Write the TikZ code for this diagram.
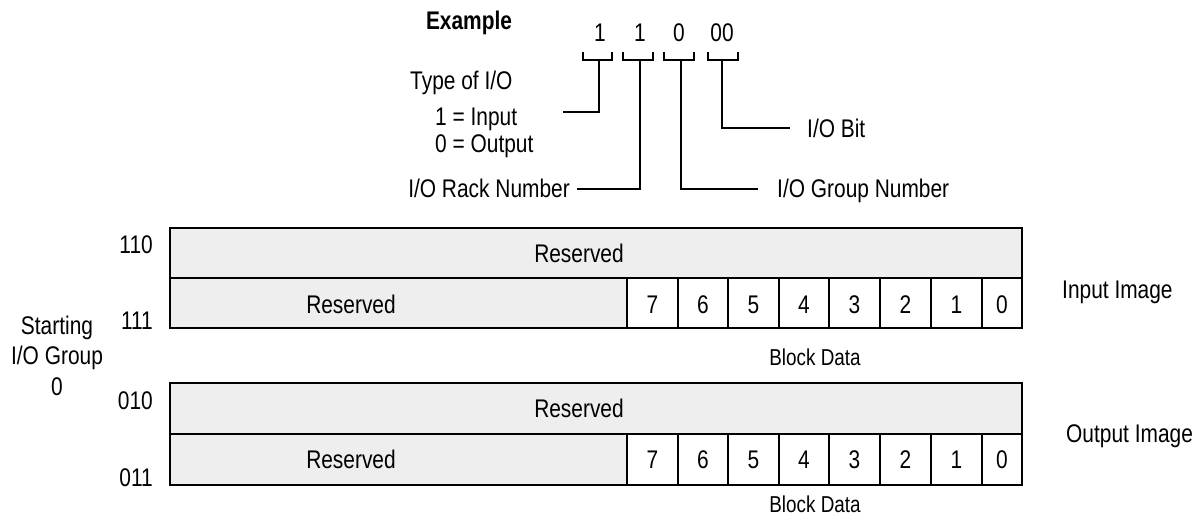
\documentclass[tikz,border=0pt]{standalone}
\usepackage{fontspec}
\setmainfont{Liberation Sans}[FakeStretch=0.82]
\definecolor{resgray}{HTML}{EEEEEE}
\begin{document}
\begin{tikzpicture}[x=1pt,y=-1pt,
  lbl/.style={font=\fontsize{25.5}{30}\selectfont, inner sep=0, anchor=base},
  boldlbl/.style={font=\fontsize{25.5}{30}\selectfont\bfseries, inner sep=0, anchor=base},
  small/.style={font=\fontsize{23}{27}\selectfont, inner sep=0, anchor=base},
  link/.style={line width=1.8pt},
  grid/.style={line width=1.8pt},
]
\useasboundingbox (0,0) rectangle (1204,516);

% ---- address example ----
\node[boldlbl] (example) at (469,30) {Example};
\node[lbl] (d1) at (600,42) {1};
\node[lbl] (d2) at (640,42) {1};
\node[lbl] (d3) at (679,42) {0};
\node[lbl] (d4) at (722,42) {00};

% brackets under the digits
\draw[link] (583,52) |- (612,60) -- (612,52);
\draw[link] (623,52) |- (653,60) -- (653,52);
\draw[link] (664,52) |- (694,60) -- (694,52);
\draw[link] (708,52) |- (738,60) -- (738,52);

% field descriptions
\node[lbl, anchor=base west] (type) at (410,90) {Type of I/O};
\node[lbl, anchor=base west] (tin) at (435,125) {1 = Input};
\node[lbl, anchor=base west] (tout) at (435,153) {0 = Output};
\node[lbl, anchor=base east] (rack) at (570,197) {I/O Rack Number};
\node[lbl, anchor=base west] (group) at (777,197) {I/O Group Number};
\node[lbl, anchor=base west] (bit) at (807,138) {I/O Bit};

% leader lines from the brackets
\coordinate (s1) at (599,60);
\coordinate (s2) at (640,60);
\coordinate (s3) at (681,60);
\coordinate (s4) at (722,60);
\coordinate (e1) at (563,112);
\coordinate (e2) at (577,189);
\coordinate (e3) at (758,189);
\coordinate (e4) at (790,128);
\draw[link] (s1) |- (e1);
\draw[link] (s2) |- (e2);
\draw[link] (s3) |- (e3);
\draw[link] (s4) |- (e4);

% ---- image tables ----
\foreach \t/\m/\b/\n in {228/278/328/in, 383/434/485/out}{
  \fill[resgray] (170,\t) rectangle (1022,\b);
  \fill[white] (627,\m) rectangle (1022,\b);
  \draw[grid] (170,\t) rectangle (1022,\b);
  \draw[grid] (170,\m) -- (1022,\m);
  \foreach \x in {627,678,728,779,829,880,931,982}
    \draw[grid] (\x,\m) -- (\x,\b);
}

% input image texts
\node[lbl] (inres1) at (579,262) {Reserved};
\node[lbl] (inres2) at (351,313) {Reserved};
\foreach \d/\x in {7/652.5,6/703,5/753.5,4/804,3/854.5,2/905.5,1/956.5,0/1002}
  \node[lbl] (inbit\d) at (\x,313) {\d};
\node[small] (inblock) at (815,365) {Block Data};
\node[lbl, anchor=base west] (inimg) at (1062,298) {Input Image};

% output image texts
\node[lbl] (outres1) at (579,417) {Reserved};
\node[lbl] (outres2) at (351,468) {Reserved};
\foreach \d/\x in {7/652.5,6/703,5/753.5,4/804,3/854.5,2/905.5,1/956.5,0/1002}
  \node[lbl] (outbit\d) at (\x,468) {\d};
\node[small] (outblock) at (815,512) {Block Data};
\node[lbl, anchor=base west] (outimg) at (1066,442) {Output Image};

% word addresses
\node[lbl, anchor=base east] (a110) at (153,253) {110};
\node[lbl, anchor=base east] (a111) at (153,329) {111};
\node[lbl, anchor=base east] (a010) at (153,409) {010};
\node[lbl, anchor=base east] (a011) at (153,486) {011};

% starting group
\node[lbl] (st1) at (57,334) {Starting};
\node[lbl] (st2) at (57,364) {I/O Group};
\node[lbl] (st3) at (57,395) {0};
\end{tikzpicture}
\end{document}
